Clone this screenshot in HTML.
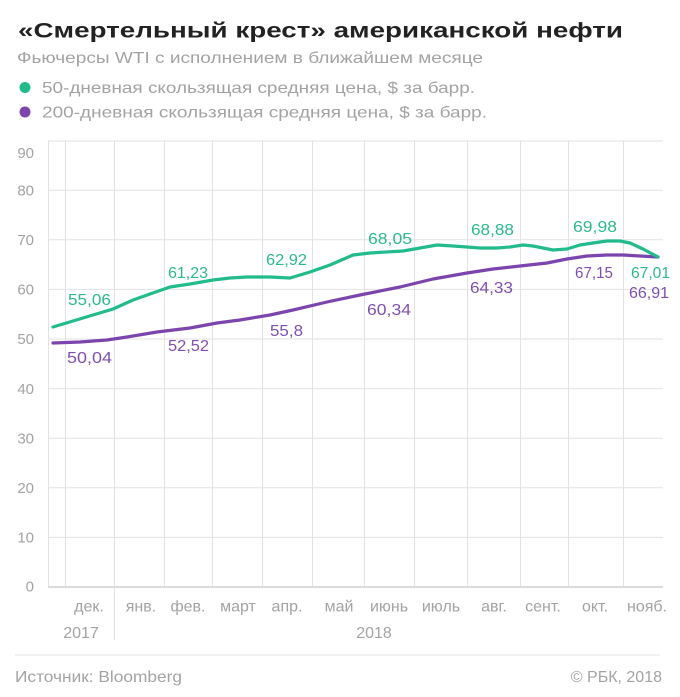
<!DOCTYPE html>
<html>
<head>
<meta charset="utf-8">
<style>
  html, body { margin:0; padding:0; background:#fff; }
  svg { display:block; }
  text { font-family: "Liberation Sans", "Noto Sans CJK SC", sans-serif; }
</style>
</head>
<body>
<svg width="680" height="697" viewBox="0 0 680 697" xmlns="http://www.w3.org/2000/svg">
  <rect width="680" height="697" fill="#fff"/>

  <!-- Title -->
  <text x="18" y="37.5" font-size="21" font-weight="bold" fill="#222" textLength="605" lengthAdjust="spacingAndGlyphs">«Смертельный крест» американской нефти</text>
  <text x="17" y="63" font-size="16" fill="#a3a3a3" textLength="466" lengthAdjust="spacingAndGlyphs">Фьючерсы WTI с исполнением в ближайшем месяце</text>

  <!-- Legend -->
  <circle cx="25" cy="87.5" r="5.5" fill="#22bb8b"/>
  <text x="42" y="93" font-size="16" fill="#a3a3a3" textLength="433" lengthAdjust="spacingAndGlyphs">50-дневная скользящая средняя цена, $ за барр.</text>
  <circle cx="25" cy="112" r="5.5" fill="#7b45ad"/>
  <text x="42" y="117.5" font-size="16" fill="#a3a3a3" textLength="445" lengthAdjust="spacingAndGlyphs">200-дневная скользящая средняя цена, $ за барр.</text>

  <!-- Grid -->
  <g stroke="#e2e2e2" stroke-width="1" fill="none">
    <line x1="48" y1="141" x2="663" y2="141"/>
    <line x1="48" y1="190.2" x2="663" y2="190.2"/>
    <line x1="48" y1="239.8" x2="663" y2="239.8"/>
    <line x1="48" y1="289.4" x2="663" y2="289.4"/>
    <line x1="48" y1="339" x2="663" y2="339"/>
    <line x1="48" y1="388.6" x2="663" y2="388.6"/>
    <line x1="48" y1="438.2" x2="663" y2="438.2"/>
    <line x1="48" y1="487.8" x2="663" y2="487.8"/>
    <line x1="48" y1="537.4" x2="663" y2="537.4"/>

    <line x1="48.5" y1="141" x2="48.5" y2="587"/>
    <line x1="65.5" y1="141" x2="65.5" y2="587"/>
    <line x1="114.5" y1="141" x2="114.5" y2="640"/>
    <line x1="164.5" y1="141" x2="164.5" y2="587"/>
    <line x1="212.5" y1="141" x2="212.5" y2="587"/>
    <line x1="262.5" y1="141" x2="262.5" y2="587"/>
    <line x1="312.5" y1="141" x2="312.5" y2="587"/>
    <line x1="364.5" y1="141" x2="364.5" y2="587"/>
    <line x1="414.5" y1="141" x2="414.5" y2="587"/>
    <line x1="467.5" y1="141" x2="467.5" y2="587"/>
    <line x1="520.5" y1="141" x2="520.5" y2="587"/>
    <line x1="568.5" y1="141" x2="568.5" y2="587"/>
    <line x1="623.5" y1="141" x2="623.5" y2="587"/>
  </g>
  <line x1="48" y1="587" x2="663" y2="587" stroke="#dcdcdc" stroke-width="2"/>

  <!-- Y labels -->
  <g font-size="15" fill="#a3a3a3" text-anchor="end">
    <text x="34" y="158">90</text>
    <text x="34" y="195.5">80</text>
    <text x="34" y="245">70</text>
    <text x="34" y="294.5">60</text>
    <text x="34" y="344">50</text>
    <text x="34" y="394">40</text>
    <text x="34" y="443.5">30</text>
    <text x="34" y="493">20</text>
    <text x="34" y="542.5">10</text>
    <text x="34" y="591.5">0</text>
  </g>

  <!-- X labels -->
  <g font-size="16" fill="#a3a3a3" text-anchor="middle">
    <text x="89" y="611.5">дек.</text>
    <text x="141" y="611.5">янв.</text>
    <text x="188" y="611.5">фев.</text>
    <text x="238" y="611.5">март</text>
    <text x="287" y="611.5">апр.</text>
    <text x="339" y="611.5">май</text>
    <text x="389" y="611.5">июнь</text>
    <text x="441" y="611.5">июль</text>
    <text x="494" y="611.5">авг.</text>
    <text x="543" y="611.5">сент.</text>
    <text x="595" y="611.5">окт.</text>
    <text x="647" y="611.5">нояб.</text>
    <text x="81" y="638">2017</text>
    <text x="374" y="638">2018</text>
  </g>

  <!-- Series -->
  <polyline fill="none" stroke="#7b45ad" stroke-width="3.2" stroke-linejoin="round" stroke-linecap="round"
    points="53,343 80,342 107,340 127,337 157,332 190,328 217,323 240,320 270,315 293,310 327,302 360,295 400,287 433,279 467,273 493,269 520,266 547,263 567,259 587,256 607,255 623,255 640,256 658,257"/>
  <polyline fill="none" stroke="#22bb8b" stroke-width="3.2" stroke-linejoin="round" stroke-linecap="round"
    points="53,327 73,321 93,315 113,309 133,300 150,294 170,287 190,284 213,280 230,278 247,277 270,277 290,278 310,272 330,265 353,255 370,253 403,251 437,245 453,246 467,247 480,248 497,248 510,247 523,245 533,246 543,248 553,250 567,249 580,245 593,243 607,241 620,241 630,243 643,249 658,257"/>

  <!-- Data labels green -->
  <g font-size="16" fill="#2cb98c">
    <text x="68" y="305" textLength="43" lengthAdjust="spacingAndGlyphs">55,06</text>
    <text x="168" y="278" textLength="40" lengthAdjust="spacingAndGlyphs">61,23</text>
    <text x="266" y="265" textLength="41" lengthAdjust="spacingAndGlyphs">62,92</text>
    <text x="368" y="244" textLength="44" lengthAdjust="spacingAndGlyphs">68,05</text>
    <text x="471" y="235" textLength="43" lengthAdjust="spacingAndGlyphs">68,88</text>
    <text x="573" y="232" textLength="44" lengthAdjust="spacingAndGlyphs">69,98</text>
    <text x="631" y="278" textLength="39" lengthAdjust="spacingAndGlyphs">67,01</text>
  </g>
  <!-- Data labels purple -->
  <g font-size="16" fill="#7f4fb0">
    <text x="67" y="363" textLength="45" lengthAdjust="spacingAndGlyphs">50,04</text>
    <text x="168" y="351" textLength="41" lengthAdjust="spacingAndGlyphs">52,52</text>
    <text x="270" y="336" textLength="33" lengthAdjust="spacingAndGlyphs">55,8</text>
    <text x="367" y="315" textLength="44" lengthAdjust="spacingAndGlyphs">60,34</text>
    <text x="470" y="293" textLength="43" lengthAdjust="spacingAndGlyphs">64,33</text>
    <text x="575" y="278" textLength="38" lengthAdjust="spacingAndGlyphs">67,15</text>
    <text x="629" y="298" textLength="40" lengthAdjust="spacingAndGlyphs">66,91</text>
  </g>

  <!-- Footer -->
  <line x1="15" y1="655" x2="660" y2="655" stroke="#e6e6e6" stroke-width="1"/>
  <text x="15" y="682" font-size="16" fill="#a3a3a3" textLength="167" lengthAdjust="spacingAndGlyphs">Источник: Bloomberg</text>
  <text x="662" y="682" font-size="16" fill="#a3a3a3" text-anchor="end">© РБК, 2018</text>
</svg>
</body>
</html>
